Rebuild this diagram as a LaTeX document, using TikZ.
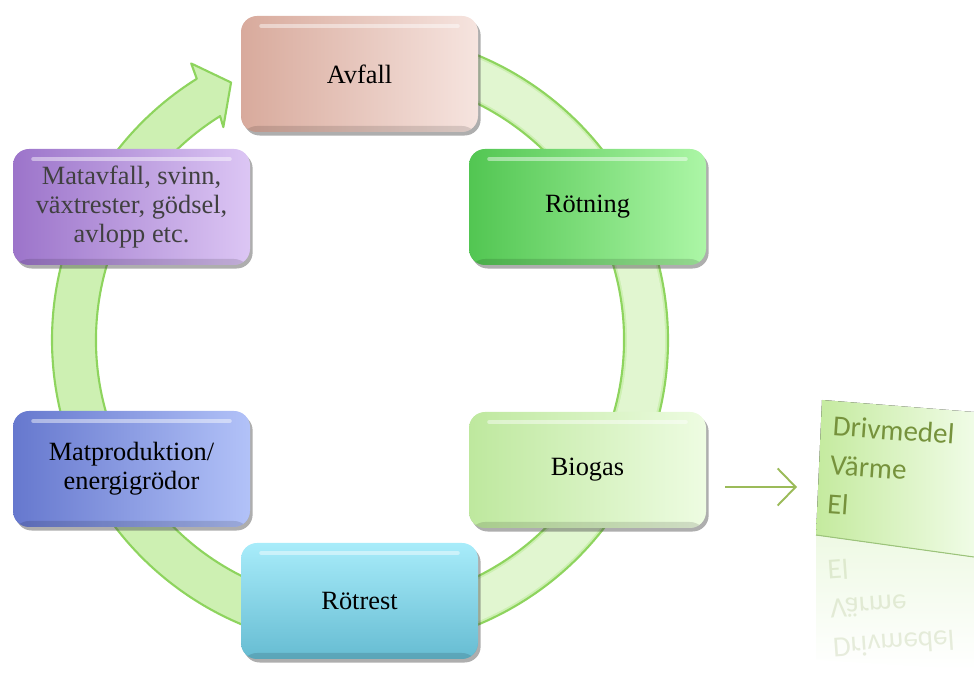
\documentclass[tikz,border=0pt]{standalone}
\usepackage{fontspec}
\setmainfont{Liberation Serif}
\newfontfamily\carlito{Carlito}
\usepackage{xcolor}
\usepackage{tikz}
\usetikzlibrary{shadows,arrows.meta,calc}

\definecolor{ringfill}{HTML}{CDF0B2}
\definecolor{ringline}{HTML}{8ED45E}
\definecolor{utgreen}{HTML}{76923C}
\definecolor{utarrow}{HTML}{9BBB59}
\definecolor{avfallA}{HTML}{D8AA9C}
\definecolor{avfallB}{HTML}{F6E4DF}
\definecolor{rotningA}{HTML}{52C652}
\definecolor{rotningB}{HTML}{ACF6A6}
\definecolor{biogasA}{HTML}{BEE89E}
\definecolor{biogasB}{HTML}{EEFCE2}
\definecolor{rotrestA}{HTML}{A8ECFA}
\definecolor{rotrestB}{HTML}{66BCD2}
\definecolor{matprodA}{HTML}{6678CE}
\definecolor{matprodB}{HTML}{B2C2F8}
\definecolor{matavfA}{HTML}{9C74CA}
\definecolor{matavfB}{HTML}{DCC6F4}
\definecolor{utA}{HTML}{C4EA9E}
\definecolor{utB}{HTML}{F0FCE6}
\definecolor{utedge}{HTML}{9CC47A}
\definecolor{utspeg}{HTML}{EEF9E4}

\begin{document}
\begin{tikzpicture}[
  box/.style={rounded corners=0.32cm, minimum width=4.74cm, minimum height=2.32cm,
    inner sep=0pt, align=center, font=\fontsize{15}{16.5}\selectfont,
    shading=axis, shading angle=-60,
    drop shadow={shadow xshift=1.5pt, shadow yshift=-2pt, fill=black!70, opacity=0.45},
    path picture={
      \draw[white, opacity=0.45, line width=2pt, line cap=round]
        ([xshift=0.4cm, yshift=-0.2cm]path picture bounding box.north west) --
        ([xshift=-0.4cm, yshift=-0.2cm]path picture bounding box.north east);
      \fill[black, opacity=0.12]
        (path picture bounding box.south west) rectangle
        ([yshift=0.12cm]path picture bounding box.south east);}},
  ring/.style={fill=ringfill, draw=ringline, line width=1.2pt, line join=round}]
 \useasboundingbox (0,0) rectangle (19.48,13.6);

 % the cycle arrow
 \coordinate (c) at (7.2,6.8);
 \draw[ring]
   (c) ++(95:6.16) arc (95:-238:6.16)
   -- ($(c)+(-238.6:6.48)$) -- ($(c)+(-243.4:5.76)$) -- ($(c)+(-237.3:5.06)$)
   -- ($(c)+(-238:5.28)$) arc (-238:95:5.28) -- cycle;
 \fill[white, opacity=0.4] (c) ++(75:6.1) arc (75:-80:6.1) -- ++(-80:-0.76) arc (-80:75:5.34) -- cycle;

 \node[box, left color=avfallA, right color=avfallB] (avfall) at (7.19,12.12) {Avfall};
 \node[box, left color=rotningA, right color=rotningB] (rotning) at (11.75,9.46) {Rötning};
 \node[box, left color=biogasA, right color=biogasB] (biogas) at (11.75,4.20) {Biogas};
 \node[box, shading angle=0, top color=rotrestA, bottom color=rotrestB] (rotrest) at (7.19,1.58) {Rötrest};
 \node[box, left color=matprodA, right color=matprodB] (matprod) at (2.63,4.22) {Matproduktion/\\energigrödor};
 \node[box, left color=matavfA, right color=matavfB, text=black!75] (matavfall) at (2.63,9.46)
   {Matavfall, svinn,\\växtrester, gödsel,\\avlopp etc.};

 % output box
 \shade[top color=utspeg, bottom color=white]
   (16.32,2.90) -- (19.48,2.46) -- (19.48,0.2) -- (16.32,0.4) -- cycle;
 \fill[shading=axis, shading angle=-60, left color=utA, right color=utB]
   (16.44,5.60) -- (19.48,5.36) -- (19.48,2.46) -- (16.32,2.90) -- cycle;
 \draw[utedge, line width=0.6pt] (16.32,2.90) -- (19.48,2.46);
 \node[anchor=north west, align=left, text=utgreen, rotate=-4,
   font=\carlito\fontsize{16.5}{19}\selectfont] (utdata) at (16.56,5.42)
   {Drivmedel\\[0.11cm]Värme\\[0.11cm]El};
 \node[anchor=north west, align=left, text=utgreen, opacity=0.16, rotate=4, yscale=-1,
   font=\carlito\fontsize{16.5}{19}\selectfont] (utspegel) at (16.56,0.30)
   {Drivmedel\\[0.11cm]Värme\\[0.11cm]El};

 \coordinate (utin) at (15.94,3.86);
 \draw[utarrow, line width=1.1pt, -{Straight Barb[length=3.6mm, width=7.4mm]}]
   ([shift={(0.38,-0.34)}]biogas.east) -- (utin);
\end{tikzpicture}
\end{document}
